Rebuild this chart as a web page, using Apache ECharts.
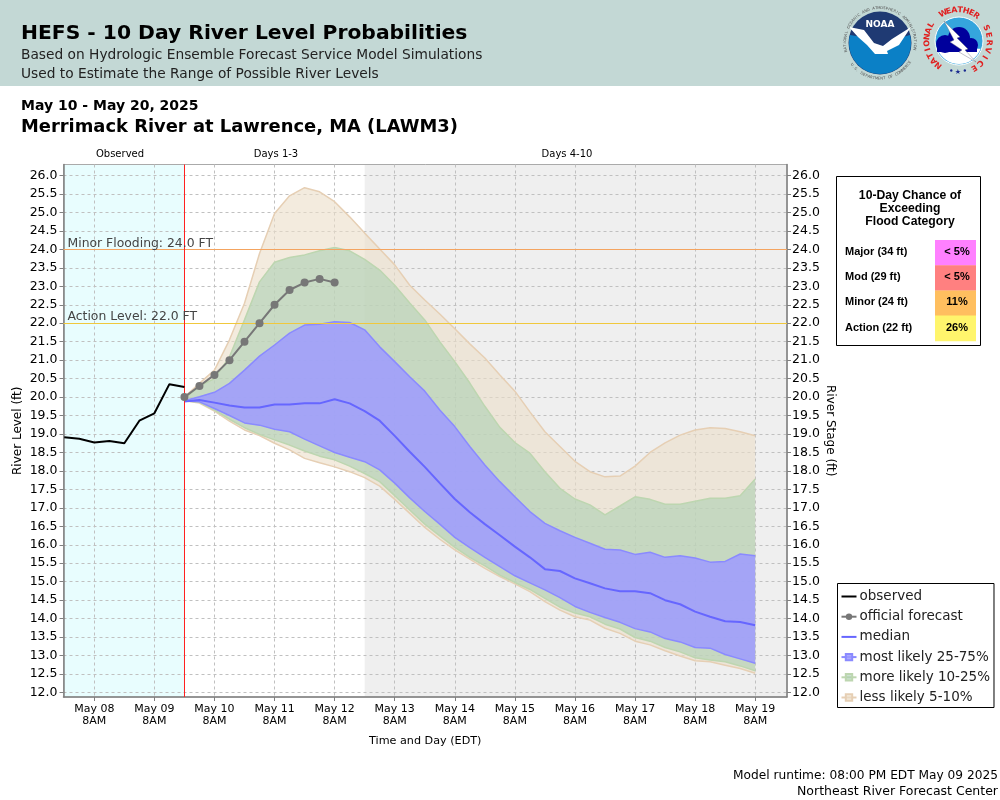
<!DOCTYPE html>
<html>
<head>
<meta charset="utf-8">
<title>HEFS River Level Probabilities</title>
<script src="https://cdn.jsdelivr.net/npm/echarts@6/dist/echarts.min.js"></script>
<style>
  html, body { margin: 0; padding: 0; background: #fff; }
  #chart { width: 1000px; height: 800px; }
</style>
</head>
<body>
<div id="chart"></div>
<script>
// x values are hours after May 08 8AM
const xTickHours = [0, 24, 48, 72, 96, 120, 144, 168, 192, 216, 240, 264];
const xTickLabels = ["May 08\n8AM", "May 09\n8AM", "May 10\n8AM", "May 11\n8AM", "May 12\n8AM", "May 13\n8AM", "May 14\n8AM", "May 15\n8AM", "May 16\n8AM", "May 17\n8AM", "May 18\n8AM", "May 19\n8AM"];
const yTicks = [12, 12.5, 13, 13.5, 14, 14.5, 15, 15.5, 16, 16.5, 17, 17.5, 18, 18.5, 19, 19.5, 20, 20.5, 21, 21.5, 22, 22.5, 23, 23.5, 24, 24.5, 25, 25.5, 26];

const observedHours = [-12, -6, 0, 6, 12, 18, 24, 30, 36];
const observed = [18.91, 18.87, 18.77, 18.81, 18.75, 19.36, 19.56, 20.35, 20.27];

const officialHours = [36, 42, 48, 54, 60, 66, 72, 78, 84, 90, 96];
const official = [20.0, 20.3, 20.6, 21.0, 21.5, 22.0, 22.5, 22.9, 23.1, 23.2, 23.1];

const bandHours = [36, 42, 48, 54, 60, 66, 72, 78, 84, 90, 96, 102, 108, 114, 120, 126, 132, 138, 144, 150, 156, 162, 168, 174, 180, 186, 192, 198, 204, 210, 216, 222, 228, 234, 240, 246, 252, 258, 264];
const median = [19.88, 19.92, 19.85, 19.77, 19.72, 19.72, 19.8, 19.8, 19.83, 19.83, 19.94, 19.83, 19.62, 19.36, 18.95, 18.52, 18.11, 17.67, 17.24, 16.88, 16.56, 16.26, 15.95, 15.66, 15.34, 15.29, 15.09, 14.96, 14.82, 14.74, 14.74, 14.69, 14.5, 14.39, 14.19, 14.05, 13.93, 13.91, 13.82];
const high75 = [19.9, 20.01, 20.13, 20.37, 20.73, 21.11, 21.41, 21.73, 21.95, 21.97, 22.04, 22.02, 21.82, 21.36, 20.96, 20.55, 20.16, 19.65, 19.2, 18.66, 18.16, 17.71, 17.3, 16.9, 16.58, 16.38, 16.2, 16.04, 15.88, 15.86, 15.74, 15.8, 15.66, 15.7, 15.64, 15.53, 15.55, 15.75, 15.7];
const low25 = [19.9, 19.87, 19.69, 19.5, 19.3, 19.24, 19.13, 19.06, 18.86, 18.68, 18.5, 18.37, 18.25, 18.03, 17.67, 17.27, 16.9, 16.56, 16.2, 15.92, 15.66, 15.41, 15.16, 14.97, 14.78, 14.57, 14.33, 14.17, 14.03, 13.9, 13.73, 13.64, 13.46, 13.37, 13.22, 13.2, 13.03, 12.91, 12.79];
const high90 = [19.95, 20.3, 20.5, 21.09, 22.09, 23.12, 23.65, 23.78, 23.85, 23.96, 24.05, 23.96, 23.73, 23.44, 23.03, 22.55, 22.09, 21.5, 20.96, 20.38, 19.75, 19.18, 18.77, 18.48, 17.98, 17.53, 17.24, 17.08, 16.81, 17.05, 17.3, 17.23, 17.1, 17.1, 17.18, 17.26, 17.26, 17.33, 17.78];
const low10 = [19.9, 19.86, 19.65, 19.4, 19.17, 18.99, 18.84, 18.7, 18.54, 18.4, 18.3, 18.13, 17.93, 17.71, 17.33, 16.94, 16.56, 16.24, 15.93, 15.66, 15.43, 15.18, 14.98, 14.79, 14.55, 14.31, 14.15, 14.05, 13.85, 13.72, 13.49, 13.39, 13.22, 13.1, 12.94, 12.88, 12.83, 12.72, 12.59];
const high95 = [20.0, 20.37, 20.73, 21.55, 22.54, 23.89, 24.97, 25.45, 25.67, 25.56, 25.29, 24.88, 24.44, 24.01, 23.58, 23.03, 22.63, 22.25, 21.85, 21.44, 21.06, 20.6, 20.16, 19.6, 19.06, 18.66, 18.26, 17.98, 17.84, 17.86, 18.13, 18.5, 18.76, 18.97, 19.11, 19.17, 19.15, 19.06, 18.95];
const low5 = [19.9, 19.84, 19.62, 19.35, 19.11, 18.96, 18.75, 18.57, 18.34, 18.22, 18.11, 17.98, 17.82, 17.59, 17.23, 16.85, 16.47, 16.15, 15.86, 15.61, 15.36, 15.14, 14.94, 14.73, 14.46, 14.23, 14.05, 13.96, 13.74, 13.6, 13.39, 13.29, 13.13, 12.99, 12.86, 12.83, 12.74, 12.65, 12.52];

const floodCategories = ["Major (34 ft)", "Mod (29 ft)", "Minor (24 ft)", "Action (22 ft)"];
const floodChances = ["< 5%", "< 5%", "11%", "26%"];
const floodColors = ["#ff80ff", "#ff8080", "#ffbf5f", "#fff56c"];

const forecastStart = 36;
const extendedStart = 108;
const xMin = -12.3;
const xMax = 276.7;
const yMin = 11.878;
const yMax = 26.298;

const FONT = '"DejaVu Sans"';

function zip(xs, ys) {
  return xs.map((x, i) => [x, ys[i]]);
}

// filled polygon between two curves, plus both edges as lines
function bandSeries(name, low, high, fill, edge) {
  const edgeLine = (values) => ({
    type: "line",
    name: name,
    data: zip(bandHours, values),
    symbol: "rect",
    showSymbol: false,
    lineStyle: { color: edge, width: 1.5 },
    itemStyle: { color: fill, borderColor: edge, borderWidth: 1 },
    silent: true
  });
  return [
    {
      type: "custom",
      name: name + " fill",
      data: [0],
      silent: true,
      renderItem: (params, api) => {
        const top = high.map((v, i) => api.coord([bandHours[i], v]));
        const bottom = low.map((v, i) => api.coord([bandHours[i], v])).reverse();
        return {
          type: "polygon",
          shape: { points: top.concat(bottom) },
          style: { fill: fill, stroke: null }
        };
      }
    },
    edgeLine(high),
    edgeLine(low)
  ];
}

// horizontal or vertical reference line, with its own series so the style sticks
function refLine(name, item, color, labelText) {
  return {
    type: "line",
    name: name,
    data: [],
    markLine: {
      silent: true,
      symbol: "none",
      animation: false,
      lineStyle: { color: color, type: "solid", width: 1 },
      label: labelText
        ? { show: true, formatter: labelText, position: "insideStartTop", distance: [4, 0], fontFamily: FONT, fontSize: 12.4, color: "#444", padding: 0 }
        : { show: false },
      data: [item]
    }
  };
}

function text(str, x, y, font, fill, align) {
  return {
    type: "text",
    style: { text: str, x: x, y: y, font: font, fill: fill || "#000", textAlign: align || "left", textVerticalAlign: "middle" }
  };
}

// one glyph per rotated text element, around a circle
function ringText(str, cx, cy, r, startDeg, stepDeg, font, fill, inward) {
  return str.split("").map((ch, i) => {
    const deg = startDeg + i * stepDeg;
    const rad = (deg * Math.PI) / 180;
    return {
      type: "text",
      x: cx + r * Math.sin(rad),
      y: cy - r * Math.cos(rad),
      rotation: (-deg * Math.PI) / 180 + (inward ? Math.PI : 0),
      style: { text: ch, font: font, fill: fill, textAlign: "center", textVerticalAlign: "middle" }
    };
  });
}

function arcPoints(cx, cy, r, from, to, n) {
  const pts = [];
  for (let i = 0; i <= n; i++) {
    const a = ((from + ((to - from) * i) / n) * Math.PI) / 180;
    pts.push([cx + r * Math.cos(a), cy + r * Math.sin(a)]);
  }
  return pts;
}

function noaaLogo(cx, cy) {
  const lower = arcPoints(cx, cy, 31, -15, 195, 40).concat([[cx - 18, cy - 6], [cx - 6, cy + 8], [cx + 16, cy - 4]]);
  return [
    { type: "circle", shape: { cx: cx, cy: cy, r: 31.5 }, style: { fill: "#1f3a73" } },
    { type: "polygon", shape: { points: lower }, style: { fill: "#0b80c6" } },
    { type: "polygon", shape: { points: [[cx - 31, cy - 16], [cx - 16, cy - 13], [cx - 6, cy], [cx + 3, cy + 3], [cx + 12, cy - 4], [cx + 31, cy - 16], [cx + 19, cy + 2], [cx + 7, cy + 8], [cx + 8, cy + 11], [cx - 5, cy + 11], [cx - 13, cy + 2], [cx - 22, cy - 6]] }, style: { fill: "#fff" } },
    text("NOAA", cx, cy - 18, "bold 9px " + FONT, "#fff", "center")
  ]
    .concat(ringText("NATIONAL OCEANIC AND ATMOSPHERIC ADMINISTRATION", cx, cy, 35, -103, 4.4, "3.8px " + FONT, "#555"))
    .concat(ringText("U.S. DEPARTMENT OF COMMERCE", cx, cy, 35.5, 232, -4.2, "3.8px " + FONT, "#555", true));
}

function nwsLogo(cx, cy) {
  return [
    { type: "circle", shape: { cx: cx + 1, cy: cy, r: 24 }, style: { fill: "#35a5dd", stroke: "#fff", lineWidth: 1 } },
    { type: "polygon", shape: { points: arcPoints(cx + 1, cy, 23, 20, 160, 16) }, style: { fill: "#fff" } },
    { type: "circle", shape: { cx: cx - 13, cy: cy + 3, r: 9 }, style: { fill: "#00009c" } },
    { type: "circle", shape: { cx: cx + 1, cy: cy - 3, r: 11 }, style: { fill: "#00009c" } },
    { type: "circle", shape: { cx: cx + 13, cy: cy + 4, r: 7 }, style: { fill: "#00009c" } },
    { type: "rect", shape: { x: cx - 21, y: cy + 2, width: 40, height: 9 }, style: { fill: "#00009c" } },
    { type: "polygon", shape: { points: [[cx - 14, cy - 20], [cx + 2, cy - 4], [cx - 1, cy - 3], [cx + 10, cy + 8], [cx + 7, cy + 9], [cx + 18, cy + 21], [cx + 1, cy + 11], [cx + 4, cy + 9], [cx - 8, cy + 1], [cx - 4, cy - 1]] }, style: { fill: "#fff", stroke: "#667", lineWidth: 0.4 } }
  ]
    .concat(ringText("NATIONAL", cx, cy, 31, -141, 11.7, "bold 8px " + FONT, "#e02020"))
    .concat(ringText("WEATHER", cx, cy, 31, -28, 10.7, "bold 8px " + FONT, "#e02020"))
    .concat(ringText("SERVICE", cx, cy, 31, 65, 14, "bold 8px " + FONT, "#e02020"))
    .concat(ringText("\u2022\u2605\u2022", cx, cy, 31, 193, -13, "bold 7px " + FONT, "#1a2a90", true));
}

function floodTable() {
  const x = 836.5, y = 176.5, w = 144, h = 169;
  const rowTop = 240, rowH = 25.2;
  const tableFont = "bold 11px Liberation Sans";
  const titleFont = "bold 12.2px Liberation Sans";
  const items = [
    { type: "rect", shape: { x: x, y: y, width: w, height: h }, style: { fill: "#fff", stroke: "#000", lineWidth: 1 } },
    text("10-Day Chance of", 910, 195.5, titleFont, "#000", "center"),
    text("Exceeding", 910, 208.5, titleFont, "#000", "center"),
    text("Flood Category", 910, 221.5, titleFont, "#000", "center")
  ];
  floodCategories.forEach((name, i) => {
    items.push({ type: "rect", shape: { x: 935, y: rowTop + i * rowH, width: 41, height: rowH + 0.4 }, style: { fill: floodColors[i] } });
    items.push(text(name, 845, rowTop + i * rowH + 12, tableFont));
    items.push(text(floodChances[i], 957, rowTop + i * rowH + 12, tableFont, "#000", "center"));
  });
  return items;
}

const chart = echarts.init(document.getElementById("chart"));

const option = {
  animation: false,
  textStyle: { fontFamily: FONT },
  grid: { left: 63.5, top: 164.5, width: 723.5, height: 532.5, show: true, borderColor: "#aaa", borderWidth: 1, outerBoundsMode: "none" },
  legend: {
    left: 837.5,
    top: 583.5,
    orient: "vertical",
    align: "left",
    padding: [6, 4, 3, 3],
    itemGap: 6.2,
    itemWidth: 15,
    itemHeight: 8,
    selectedMode: false,
    backgroundColor: "#fff",
    borderColor: "#000",
    borderWidth: 1,
    borderRadius: 0,
    textStyle: { fontFamily: FONT, fontSize: 13.5, color: "#222", padding: [0, 0, 0, -2] },
    data: [
      { name: "observed", itemStyle: { opacity: 0 } },
      "official forecast",
      { name: "median", itemStyle: { opacity: 0 } },
      "most likely 25-75%",
      "more likely 10-25%",
      "less likely 5-10%"
    ]
  },
  xAxis: {
    type: "value",
    min: xMin,
    max: xMax,
    name: "Time and Day (EDT)",
    nameLocation: "middle",
    nameGap: 39,
    nameMoveOverlap: false,
    nameTextStyle: { fontFamily: FONT, fontSize: 11.2, color: "#000" },
    axisLine: { onZero: false, lineStyle: { color: "#808080", width: 1.5 } },
    axisTick: { length: 4, lineStyle: { color: "#808080" }, customValues: xTickHours },
    axisLabel: {
      fontFamily: FONT,
      fontSize: 11,
      lineHeight: 12,
      color: "#000",
      margin: 6,
      customValues: xTickHours,
      formatter: (v) => xTickLabels[xTickHours.indexOf(v)]
    },
    splitLine: { show: true, lineStyle: { color: "#c0c0c0", type: [3, 3], width: 1 } }
  },
  yAxis: [
    {
      type: "value",
      min: yMin,
      max: yMax,
      name: "River Level (ft)",
      nameLocation: "middle",
      nameGap: 40,
      nameMoveOverlap: false,
      nameTextStyle: { fontFamily: FONT, fontSize: 12, color: "#000" },
      axisLine: { show: true, onZero: false, lineStyle: { color: "#808080", width: 1.5 } },
      axisTick: { show: true, length: 4, lineStyle: { color: "#808080" }, customValues: yTicks },
      axisLabel: { fontFamily: FONT, fontSize: 12.5, color: "#000", margin: 6, padding: [4, 0, 0, 0], customValues: yTicks, formatter: (v) => v.toFixed(1) },
      splitLine: { show: true, lineStyle: { color: "#c0c0c0", type: [3, 3], width: 1 } }
    },
    {
      type: "value",
      position: "right",
      min: yMin,
      max: yMax,
      name: "River Stage (ft)",
      nameLocation: "middle",
      nameGap: 37,
      nameMoveOverlap: false,
      nameRotate: -90,
      nameTextStyle: { fontFamily: FONT, fontSize: 12, color: "#000" },
      axisLine: { show: true, onZero: false, lineStyle: { color: "#808080", width: 1.5 } },
      axisTick: { show: true, length: 4, lineStyle: { color: "#808080" }, customValues: yTicks },
      axisLabel: { fontFamily: FONT, fontSize: 12.5, color: "#000", margin: 5, padding: [4, 0, 0, 0], customValues: yTicks, formatter: (v) => v.toFixed(1) },
      splitLine: { show: false }
    }
  ],
  series: [
    {
      type: "line",
      name: "regions",
      data: [],
      markArea: {
        silent: true,
        z: -1,
        data: [
          [{ xAxis: xMin, itemStyle: { color: "#e8fdfe" } }, { xAxis: forecastStart }],
          [{ xAxis: extendedStart, itemStyle: { color: "#efefef" } }, { xAxis: xMax }]
        ]
      }
    },
    ...bandSeries("less likely 5-10%", low5, high95, "rgba(235,222,200,0.6)", "#e6cfb4"),
    ...bandSeries("more likely 10-25%", low10, high90, "rgba(172,206,178,0.6)", "#bdd6b0"),
    ...bandSeries("most likely 25-75%", low25, high75, "rgba(158,155,255,0.85)", "#8a8aff"),
    {
      type: "line",
      name: "median",
      data: zip(bandHours, median),
      symbol: "none",
      lineStyle: { color: "#6666ff", width: 2 },
      itemStyle: { color: "#6666ff" }
    },
    refLine("minor flooding", { yAxis: 24 }, "#f4a460", "Minor Flooding: 24.0 FT"),
    refLine("action level", { yAxis: 22 }, "#f0c83c", "Action Level: 22.0 FT"),
    refLine("forecast start", { xAxis: forecastStart }, "#ff2020"),
    {
      type: "line",
      name: "official forecast",
      z: 6,
      data: zip(officialHours, official),
      symbol: "circle",
      symbolSize: 8,
      showAllSymbol: true,
      lineStyle: { color: "#777", width: 2 },
      itemStyle: { color: "#777" }
    },
    {
      type: "line",
      name: "observed",
      z: 6,
      data: zip(observedHours, observed),
      symbol: "none",
      lineStyle: { color: "#000", width: 2 },
      itemStyle: { color: "#000" }
    }
  ],
  graphic: [
    { type: "rect", z: -10, shape: { x: 0, y: 0, width: 1000, height: 86 }, style: { fill: "#c3d8d5" } },
    text("HEFS - 10 Day River Level Probabilities", 21, 34, "bold 20.3px " + FONT),
    text("Based on Hydrologic Ensemble Forecast Service Model Simulations", 21, 55, "13.75px " + FONT, "#222"),
    text("Used to Estimate the Range of Possible River Levels", 21, 74, "13.75px " + FONT, "#222"),
    text("May 10 - May 20, 2025", 21, 106, "bold 14px " + FONT),
    text("Merrimack River at Lawrence, MA (LAWM3)", 21, 127.5, "bold 17.9px " + FONT),
    text("Observed", 120, 154, "10px " + FONT, "#000", "center"),
    text("Days 1-3", 276, 154, "10px " + FONT, "#000", "center"),
    text("Days 4-10", 567, 154, "10px " + FONT, "#000", "center"),
    text("Model runtime: 08:00 PM EDT May 09 2025", 998, 775.5, "12.2px " + FONT, "#000", "right"),
    text("Northeast River Forecast Center", 998, 791.5, "12.5px " + FONT, "#000", "right"),
    ...noaaLogo(880, 43),
    ...nwsLogo(958, 41),
    ...floodTable()
  ]
};

chart.setOption(option);
</script>
</body>
</html>
